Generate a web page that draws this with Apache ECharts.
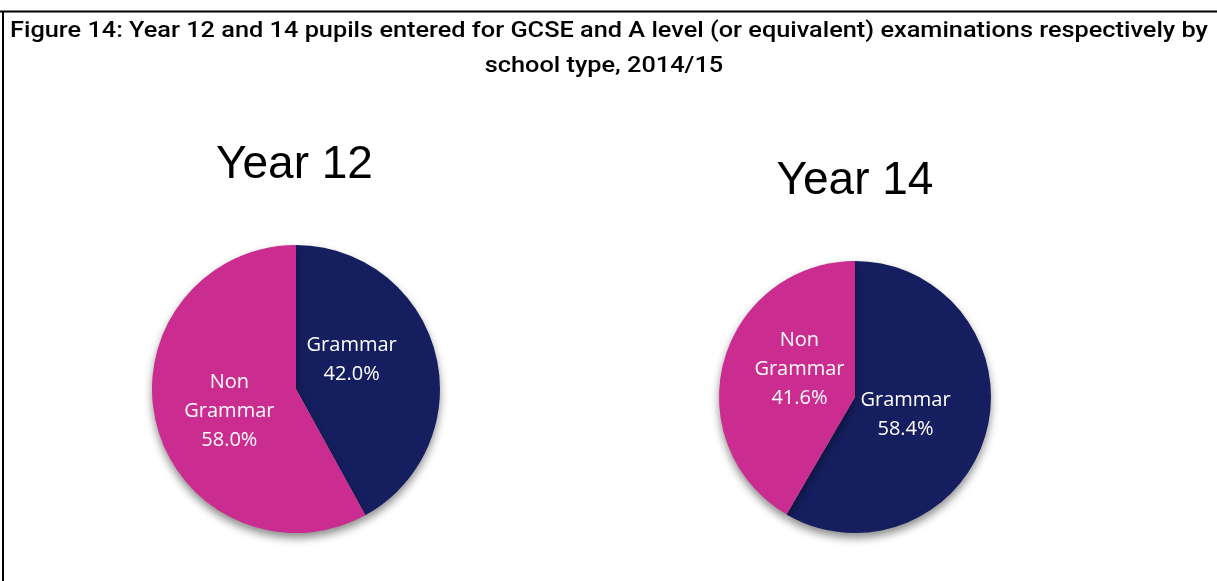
<!DOCTYPE html>
<html><head><meta charset="utf-8">
<script src="https://cdn.jsdelivr.net/npm/echarts@6/dist/echarts.min.js"></script>
<style>html,body{margin:0;padding:0;background:#fff}#c{width:1217px;height:581px}</style>
</head><body><div id="c"></div>
<script>
const categories = ['Grammar', 'Non\nGrammar'];
const year12 = [42.0, 58.0];
const year14 = [58.4, 41.6];
const chartTitles = ['Year 12', 'Year 14'];
const figTitleLines = ['Figure 14: Year 12 and 14 pupils entered for GCSE and A level (or equivalent) examinations respectively by', 'school type, 2014/15'];
const colors = ['#151F60', '#CB2C8F'];

const titleFont = '500 22px Roboto';
const cv = document.createElement('canvas').getContext('2d');
cv.font = titleFont;
const w1 = cv.measureText(figTitleLines[0]).width;
const sx = 1198 / w1;

const chart = echarts.init(document.getElementById('c'), null, {renderer: 'canvas'});
function mk(vals) { return categories.map((n, i) => ({name: n, value: vals[i], itemStyle: {color: colors[i]}})); }
const labelStyle = {
  show: true, position: 'inside', color: '#fff', fontFamily: 'Open Sans', fontSize: 20, lineHeight: 29,
  formatter: p => p.name + '\n' + p.value.toFixed(1) + '%'
};
const shadow = {shadowBlur: 8, shadowOffsetY: 5, shadowOffsetX: 0, shadowColor: 'rgba(0,0,0,0.45)'};
chart.setOption({
  animation: false,
  title: [
    {text: chartTitles[0], left: 294.5, top: 142, padding: 0, textAlign: 'center', textStyle: {fontFamily: 'Liberation Sans', fontWeight: 'normal', fontSize: 46, color: '#000'}},
    {text: chartTitles[1], left: 855, top: 158, padding: 0, textAlign: 'center', textStyle: {fontFamily: 'Liberation Sans', fontWeight: 'normal', fontSize: 46, color: '#000'}}
  ],
  graphic: [
    {type: 'line', shape: {x1: 0, y1: 11.5, x2: 1217, y2: 11.5}, style: {stroke: '#000', lineWidth: 2}},
    {type: 'line', shape: {x1: 3, y1: 11, x2: 3, y2: 581}, style: {stroke: '#000', lineWidth: 2}},
    {type: 'text', x: 609, y: 31, scaleX: sx, style: {text: figTitleLines[0], font: titleFont, fill: '#000', align: 'center', verticalAlign: 'middle', textAlign: 'center', textVerticalAlign: 'middle'}},
    {type: 'text', x: 604, y: 66, scaleX: sx, style: {text: figTitleLines[1], font: titleFont, fill: '#000', align: 'center', verticalAlign: 'middle', textAlign: 'center', textVerticalAlign: 'middle'}}
  ],
  series: [
    {type: 'pie', center: [296, 389], radius: 144, startAngle: 90, clockwise: true, data: mk(year12),
     label: labelStyle, labelLine: {show: false}, itemStyle: shadow,
     labelLayout: p => p.dataIndex === 0 ? {dx: -17, dy: -11} : {dx: 6, dy: 4}},
    {type: 'pie', center: [855, 397], radius: 136, startAngle: 90, clockwise: true, data: mk(year14),
     label: labelStyle, labelLine: {show: false}, itemStyle: shadow,
     labelLayout: p => p.dataIndex === 0 ? {dx: -18, dy: -1} : {dx: 13, dy: -9}}
  ]
});
</script></body></html>
